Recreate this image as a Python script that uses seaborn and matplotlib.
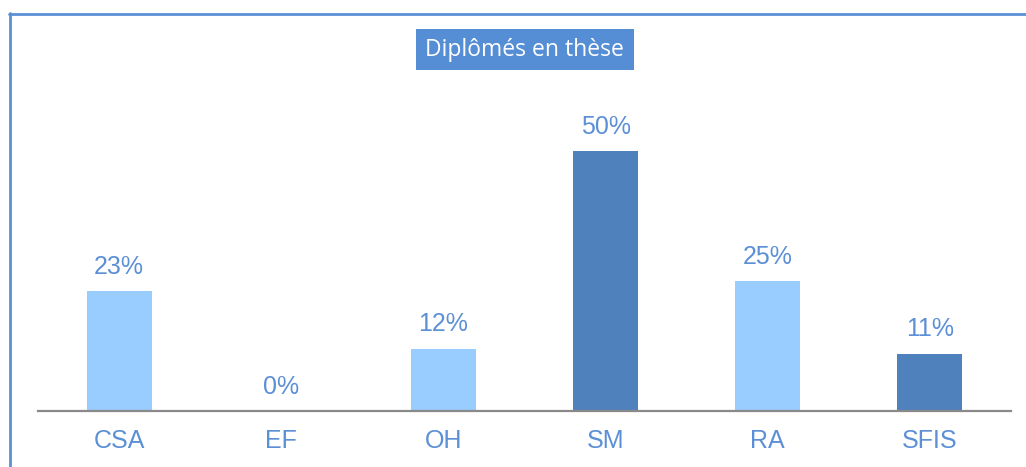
import seaborn as sns
import matplotlib.pyplot as plt
from matplotlib.patches import Rectangle
from matplotlib.lines import Line2D


# data
categories = ['CSA', 'EF', 'OH', 'SM', 'RA', 'SFIS']
values = [23, 0, 12, 50, 25, 11]
bar_colors = ['#99CCFF', '#99CCFF', '#99CCFF', '#4F81BD', '#99CCFF', '#4F81BD']
title = 'Diplômés en thèse'

text_blue = '#5B8FD6'

sns.set_theme(style='white')
plt.rcParams['font.family'] = ['Liberation Sans Narrow', 'Liberation Sans', 'DejaVu Sans']

fig = plt.figure(figsize=(10.26, 4.67), dpi=100)
W, H = 1026, 467

# axes placed in pixel terms
left, right, bottom, top = 38, 1011, 411, 60
ax = fig.add_axes([left / W, (H - bottom) / H, (right - left) / W, (bottom - top) / H])

sns.barplot(x=categories, y=values, hue=categories, palette=bar_colors,
            legend=False, width=0.4, saturation=1, linewidth=0, ax=ax)

ax.set_ylim(0, 50 * (bottom - top) / 260)
ax.set_xlim(-0.5, len(categories) - 0.5)

for cont in ax.containers:
    ax.bar_label(cont, fmt='%d%%', padding=9, fontsize=18, color=text_blue)

ax.set_xlabel('')
ax.set_ylabel('')
ax.set_yticks([])
ax.tick_params(axis='x', length=0, pad=13, labelsize=18, labelcolor=text_blue)
sns.despine(ax=ax, left=True)
ax.spines['bottom'].set_color('#898989')
ax.spines['bottom'].set_linewidth(1.6)

# outer chart frame (cropped on right and bottom)
fig.add_artist(Line2D([10 / W, 10 / W], [0, (H - 13) / H], color='#5B8FD6', lw=2))
fig.add_artist(Line2D([9 / W, 1], [(H - 13.5) / H, (H - 13.5) / H], color='#5B8FD6', lw=2))

# title box
fig.add_artist(Rectangle((416 / W, (H - 70) / H), (634 - 416) / W, 41 / H,
                         facecolor='#558ED5', edgecolor='none'))
fig.text(524.5 / W, (H - 50) / H, title, ha='center', va='center',
         color='white', fontsize=16.5, family=['Open Sans', 'DejaVu Sans'])

plt.savefig('out.png', dpi=100)
